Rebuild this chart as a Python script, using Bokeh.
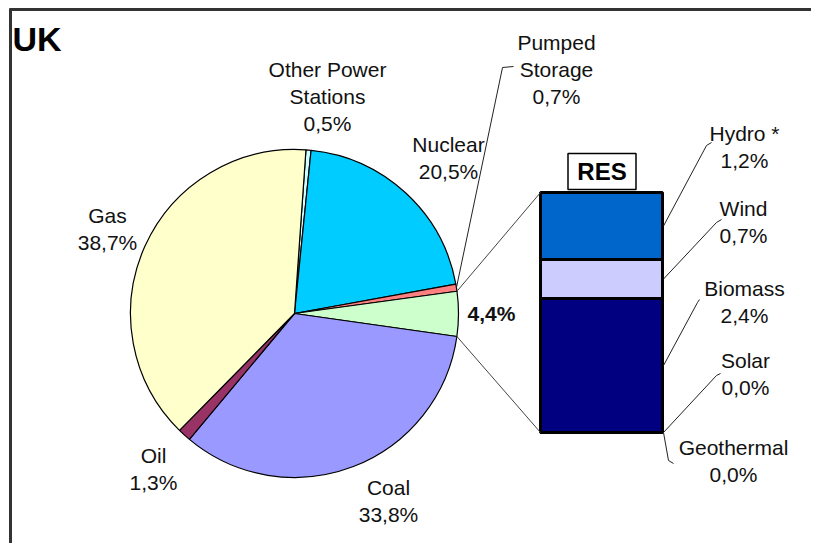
import math
from bokeh.plotting import figure
from bokeh.models import Range1d, ColumnDataSource
from bokeh.core.properties import value
from bokeh.embed import file_html
from bokeh.resources import INLINE

# ---------------- data ----------------
title = "UK"
pie_names = ["Other Power\nStations", "Nuclear", "Pumped\nStorage", "RES", "Coal", "Oil", "Gas"]
pie_values = [0.5, 20.5, 0.7, 4.4, 33.8, 1.3, 38.7]
res_title = "RES"
res_names = ["Hydro *", "Wind", "Biomass", "Solar", "Geothermal"]
res_values = [1.2, 0.7, 2.4, 0.0, 0.0]

# ---------------- styles ----------------
pie_colors = ["#CCFFFF", "#00CCFF", "#FF8080", "#CCFFCC", "#9999FF", "#993366", "#FFFFCC"]
res_colors = ["#0066CC", "#CCCCFF", "#000080", "#FFFF99", "#FF9900"]
FONT = "Liberation Sans"
FS = "21px"
LINE_GAP = 27

# ---------------- layout (picture pixels) ----------------
W, H = 811, 543
def Y(sy):
    return H - sy

CX, CY, R = 294, Y(313), 164
START_DEG = 4.0  # clockwise from 12 o'clock
BAR_L, BAR_R = 540, 662
BAR_TOP_PX, BAR_BOT_PX = 192, 432

pie_label_pos = [(327, 69), (448, 144), (556, 42), (491, 313), (388, 487), (153, 455), (107, 215)]
res_label_pos = [(744, 133), (743, 208), (744, 288), (745, 360), (733, 447)]
res_leader_ends = [[(706, 145), (711, 142)], [(716, 222), (721, 219)], [(697, 302), (699, 299)],
                   [(716, 375), (720, 373)], [(668, 460), (673, 463)]]
pumped_leader = [(502, 67), (513, 66)]


def fmt(v):
    return f"{v:.1f}".replace(".", ",") + "%"


p = figure(width=W, height=H, x_range=Range1d(0, W), y_range=Range1d(0, H),
           output_backend="svg", toolbar_location=None, min_border=0,
           x_axis_location=None, y_axis_location=None)
p.grid.visible = False
p.outline_line_color = None
p.background_fill_color = "white"

# frame (top and left rules)
p.segment(x0=[9, 10], y0=[Y(9), Y(8)], x1=[W + 5, 10], y1=[Y(9), Y(H + 5)],
          line_color="#333333", line_width=3)

# ---- pie ----
total = sum(pie_values)
theta = [START_DEG]
for v in pie_values:
    theta.append(theta[-1] + v / total * 360.0)
starts = [math.radians(90 - theta[i + 1]) for i in range(len(pie_values))]
ends = [math.radians(90 - theta[i]) for i in range(len(pie_values))]
pie_src = ColumnDataSource(dict(start=starts, end=ends, color=pie_colors,
                                name=pie_names, val=pie_values))
p.wedge(x=CX, y=CY, radius=R, start_angle="start", end_angle="end", direction="anticlock",
        fill_color="color", line_color="black", line_width=1.2, source=pie_src)


def pie_point(deg):
    return (CX + R * math.sin(math.radians(deg)), CY + R * math.cos(math.radians(deg)))


res_i = pie_names.index("RES")
pt_top = pie_point(theta[res_i])
pt_bot = pie_point(theta[res_i + 1])

# ---- RES stacked bar, on its own value range ----
res_total = sum(res_values)
k = (BAR_BOT_PX - BAR_TOP_PX) / res_total  # px per %
y0_main = Y(BAR_BOT_PX)
p.extra_y_ranges = {"res": Range1d((0 - y0_main) / k, (H - y0_main) / k)}
bottoms, tops = [], []
acc = 0.0
for v in reversed(res_values):
    bottoms.append(acc)
    acc += v
    tops.append(acc)
bottoms = bottoms[::-1]
tops = tops[::-1]
bar_src = ColumnDataSource(dict(bottom=bottoms, top=tops, color=res_colors, name=res_names))
p.vbar(x=(BAR_L + BAR_R) / 2, width=BAR_R - BAR_L, bottom="bottom", top="top",
       fill_color="color", line_color="black", line_width=3, y_range_name="res", source=bar_src)

# connectors from pie to bar
p.segment(x0=[pt_top[0], pt_bot[0]], y0=[pt_top[1], pt_bot[1]],
          x1=[BAR_L, BAR_L], y1=[Y(BAR_TOP_PX), Y(BAR_BOT_PX)],
          line_color="#444444", line_width=1)

# RES title box
p.rect(x=[(BAR_L + BAR_R) / 2 + 0.5], y=[Y(171)], width=[68], height=[36],
       fill_color="white", line_color="black", line_width=1.5)
p.text(x=[(BAR_L + BAR_R) / 2 + 0.5], y=[Y(171)], text=[res_title], text_font=value(FONT),
       text_font_size=value("24px"), text_font_style="bold", text_align="center",
       text_baseline="middle", text_color="black")

# title
p.text(x=[12], y=[Y(38)], text=[title], text_font=value(FONT), text_font_size=value("34px"),
       text_font_style="bold", text_align="left", text_baseline="middle", text_color="black")

# ---- leaders ----
lx, ly = [], []
ps_i = pie_names.index("Pumped\nStorage")
ps_pt = pie_point((theta[ps_i] + theta[ps_i + 1]) / 2)
lx.append([ps_pt[0]] + [q[0] for q in pumped_leader])
ly.append([ps_pt[1]] + [Y(q[1]) for q in pumped_leader])
for i, ends_ in enumerate(res_leader_ends):
    mid = (bottoms[i] + tops[i]) / 2
    sy = y0_main + mid * k
    lx.append([BAR_R + 1] + [q[0] for q in ends_])
    ly.append([sy] + [Y(q[1]) for q in ends_])
p.multi_line(xs=lx, ys=ly, line_color="#222222", line_width=1)

# ---- labels ----
tx, ty, tt, tstyle = [], [], [], []
for name, v, (x, y) in zip(pie_names, pie_values, pie_label_pos):
    lines = [] if name == "RES" else name.split("\n")
    lines.append(fmt(v))
    for j, s in enumerate(lines):
        tx.append(x)
        ty.append(Y(y + j * LINE_GAP))
        tt.append(s)
        tstyle.append("bold" if name == "RES" else "normal")
for name, v, (x, y) in zip(res_names, res_values, res_label_pos):
    for j, s in enumerate([name, fmt(v)]):
        tx.append(x)
        ty.append(Y(y + j * LINE_GAP))
        tt.append(s)
        tstyle.append("normal")
p.text(x="x", y="y", text="t", text_font_style="s",
       source=ColumnDataSource(dict(x=tx, y=ty, t=tt, s=tstyle)),
       text_font=value(FONT), text_font_size=value(FS), text_align="center",
       text_baseline="middle", text_color="#111111")

open("out.html", "w").write(file_html(p, INLINE))
